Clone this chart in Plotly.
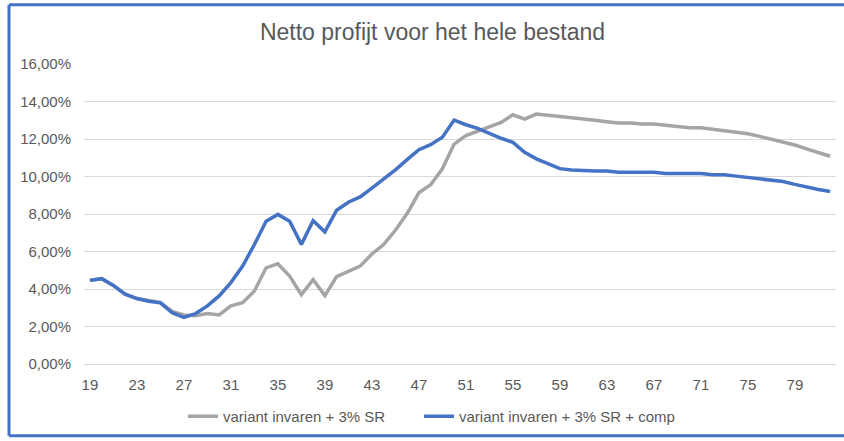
import plotly.graph_objects as go

# Leeftijden (categorie-as)
ages = [19, 20, 21, 22, 23, 24, 25, 26, 27, 28, 29, 30, 31, 32, 33, 34,
        35, 36, 37, 38, 39, 40, 41, 42, 43, 44, 45, 46, 47, 48, 49, 50,
        51, 52, 53, 54, 55, 56, 57, 58, 59, 60, 61, 62, 63, 64, 65, 66,
        67, 68, 69, 70, 71, 72, 73, 74, 75, 76, 77, 78, 79, 80, 81, 82]

# Netto profijt in procenten
variant_sr = [4.46, 4.55, 4.19, 3.72, 3.49, 3.38, 3.28, 2.80, 2.62, 2.57, 2.69, 2.62, 3.10, 3.27, 3.89, 5.13,
              5.35, 4.69, 3.70, 4.50, 3.65, 4.66, 4.93, 5.22, 5.86, 6.37, 7.13, 8.02, 9.13, 9.56, 10.41, 11.73,
              12.18, 12.41, 12.62, 12.88, 13.29, 13.06, 13.33, 13.27, 13.18, 13.11, 13.09, 13.00, 12.92, 12.85, 12.85, 12.80,
              12.80, 12.73, 12.65, 12.60, 12.60, 12.53, 12.46, 12.35, 12.28, 12.14, 12.00, 11.86, 11.68, 11.47, 11.29, 11.08]

variant_sr_comp = [4.46, 4.55, 4.19, 3.72, 3.49, 3.35, 3.26, 2.74, 2.48, 2.69, 3.10, 3.63, 4.34, 5.22, 6.37, 7.61,
                   7.98, 7.61, 6.38, 7.64, 7.05, 8.20, 8.63, 8.91, 9.38, 9.84, 10.35, 10.90, 11.43, 11.70, 12.09, 13.01,
                   12.76, 12.57, 12.30, 12.04, 11.82, 11.29, 10.94, 10.67, 10.42, 10.35, 10.30, 10.29, 10.29, 10.23, 10.23, 10.23,
                   10.23, 10.16, 10.16, 10.16, 10.16, 10.09, 10.09, 10.02, 9.95, 9.88, 9.81, 9.73, 9.58, 9.43, 9.31, 9.20]

series_names = ["variant invaren + 3% SR", "variant invaren + 3% SR + comp"]
series_colors = ["#A5A5A5", "#4472C4"]
legend_ids = ["legend", "legend2"]

TEXT = "#595959"
FONT = "Liberation Sans, Arial, sans-serif"
FRAME = "#4472C4"

fig = go.Figure()
for name, vals, col, lg in zip(series_names, [variant_sr, variant_sr_comp], series_colors, legend_ids):
    fig.add_trace(go.Scatter(
        x=ages, y=vals, mode="lines", name=name,
        line=dict(color=col, width=3.5), legend=lg,
    ))

W, H = 844, 441
ML, MR, MT, MB = 84, 8, 64, 74
pw, ph = W - ML - MR, H - MT - MB

def px_x(p):
    return (p - ML) / pw

def px_y(p):
    return 1 - (p - MT) / ph

# Wit vlak langs de rechterrand, daarna het kader links, boven en onder
shapes = [dict(type="rect", xref="paper", yref="paper", layer="above",
               x0=px_x(838), x1=px_x(W + 4), y0=px_y(H + 4), y1=px_y(-4),
               line=dict(width=0), fillcolor="white")]

left, top, bottom, right = px_x(9), px_y(4.2), px_y(439.5), px_x(W + 4)
frame = [
    dict(x0=left, x1=left, y0=bottom, y1=top),
    dict(x0=left, x1=right, y0=top, y1=top),
    dict(x0=left, x1=right, y0=bottom, y1=bottom),
]
shapes += [dict(type="line", xref="paper", yref="paper",
                line=dict(color=FRAME, width=3), layer="above", **seg)
           for seg in frame]

legend_style = dict(
    orientation="h", xanchor="left", yanchor="middle",
    y=px_y(420), font=dict(size=15, color=TEXT),
    bgcolor="rgba(0,0,0,0)",
)

fig.update_layout(
    width=W, height=H,
    margin=dict(l=ML, r=MR, t=MT, b=MB),
    paper_bgcolor="white", plot_bgcolor="white",
    separators=",.",
    font=dict(family=FONT, color=TEXT, size=15),
    title=dict(
        text="Netto profijt voor het hele bestand",
        x=432.5 / W, xref="container", xanchor="center",
        y=1 - 32 / H, yref="container", yanchor="middle",
        font=dict(size=23, color=TEXT, family=FONT),
    ),
    xaxis=dict(
        range=[18.5, 82.5], tick0=19, dtick=4,
        showgrid=False, zeroline=False, showline=False,
        ticks="", ticklabelstandoff=10,
        tickfont=dict(size=15, color=TEXT),
        fixedrange=True,
    ),
    yaxis=dict(
        range=[0, 16], dtick=2, tickformat=".2f", ticksuffix="%",
        showgrid=True, gridcolor="#D9D9D9", gridwidth=1,
        zeroline=True, zerolinecolor="#D9D9D9", zerolinewidth=1,
        showline=False, ticks="", ticklabelstandoff=12,
        tickfont=dict(size=15, color=TEXT),
        fixedrange=True,
    ),
    legend=dict(x=px_x(183), **legend_style),
    legend2=dict(x=px_x(419), **legend_style),
    showlegend=True,
    shapes=shapes,
)

fig.write_html("out.html", config={"displayModeBar": False})
